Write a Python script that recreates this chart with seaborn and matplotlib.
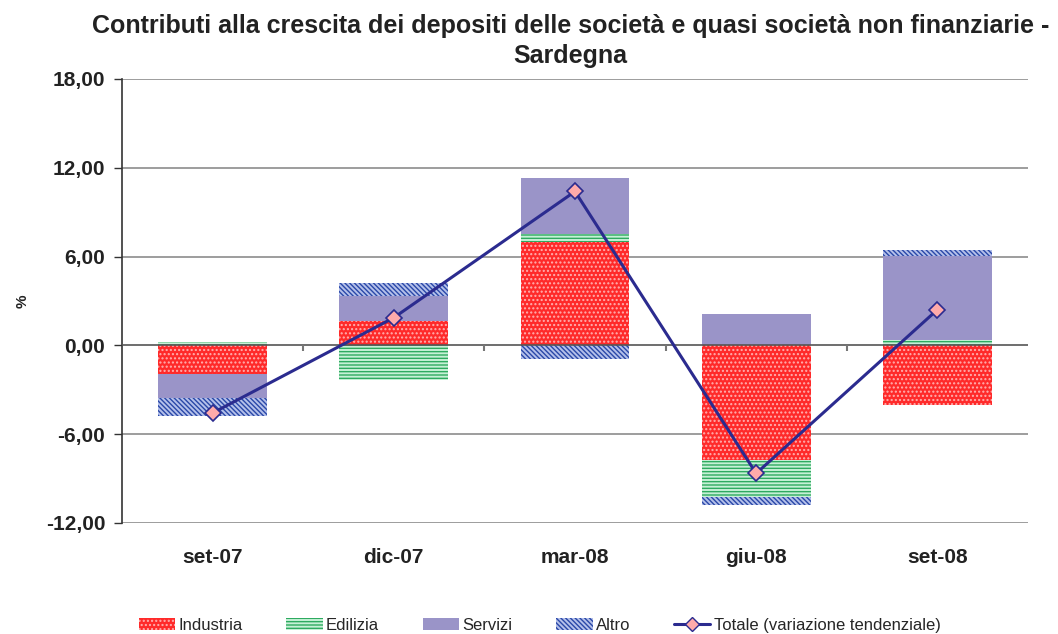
import numpy as np
import matplotlib
matplotlib.use("Agg")
import matplotlib.pyplot as plt
import seaborn as sns
from matplotlib.patches import Patch
from matplotlib.lines import Line2D

# Data
periods = ["set-07", "dic-07", "mar-08", "giu-08", "set-08"]
industria = [-1.95, 1.62, 6.98, -7.77, -4.00]
edilizia = [0.20, -2.32, 0.52, -2.48, 0.34]
servizi = [-1.60, 1.71, 3.80, 2.10, 5.67]
altro = [-1.20, 0.86, -0.95, -0.54, 0.41]
totale = [-4.57, 1.87, 10.40, -8.65, 2.41]
yticks = [-12, -6, 0, 6, 12, 18]

sns.set_style("white")
plt.rcParams["font.family"] = ["Liberation Sans", "DejaVu Sans"]
plt.rcParams["hatch.linewidth"] = 1.0

fig = plt.figure(figsize=(10.58, 6.34), dpi=100)
ax = fig.add_axes([0.1153, 0.1751, 0.8563, 0.7003])

x = np.arange(len(periods))
series = [
    ("Industria", industria, "#FF2A2A", "#FFB0B0", "...."),
    ("Edilizia", edilizia, "#C6F0D6", "#2EAA60", "-----"),
    ("Servizi", servizi, "#9A94C8", None, None),
    ("Altro", altro, "#B4C0EA", "#2A48A8", "\\\\\\\\\\\\\\"),
]

pos_base = np.zeros(len(periods))
neg_base = np.zeros(len(periods))
handles = []
for name, vals, face, hcol, hatch in series:
    vals = np.array(vals)
    bottoms = np.where(vals >= 0, pos_base, neg_base)
    ax.bar(x, vals, width=0.6, bottom=bottoms, color=face,
           edgecolor=hcol if hcol else face, linewidth=0, hatch=hatch, zorder=2)
    pos_base = pos_base + np.where(vals >= 0, vals, 0)
    neg_base = neg_base + np.where(vals < 0, vals, 0)
    handles.append(Patch(facecolor=face, edgecolor=hcol if hcol else face,
                         linewidth=0, hatch=hatch, label=name))

sns.lineplot(x=x, y=totale, ax=ax, color="#2B2B8F", linewidth=2.2,
             marker="D", markersize=8, markerfacecolor="#FFAAAA",
             markeredgecolor="#2B2B8F", markeredgewidth=1.2, zorder=4)
handles.append(Line2D([0], [0], color="#2B2B8F", linewidth=2.2, marker="D",
                      markersize=7, markerfacecolor="#FFAAAA",
                      markeredgecolor="#2B2B8F",
                      label="Totale (variazione tendenziale)"))

ax.set_xlim(-0.5, 4.5)
ax.set_ylim(-12, 18)
ax.set_yticks(yticks)
ax.set_yticklabels([f"{v:.2f}".replace(".", ",") for v in yticks],
                   fontsize=15, fontweight="bold", color="#222222")
ax.set_xticks(x)
ax.set_xticklabels(periods, fontsize=15, fontweight="bold", color="#222222")
ax.tick_params(axis="x", length=0, pad=18)
ax.tick_params(axis="y", left=True, length=6, width=1, color="#333333", pad=6)

for v in yticks:
    if v != 0:
        ax.axhline(v, color="#8C8C8C", linewidth=1.2, zorder=1)
ax.axhline(0, color="#555555", linewidth=1.2, zorder=3)
ax.vlines(np.arange(0.5, 4.5, 1.0), -0.35, 0, color="#777777", linewidth=1.5, zorder=3)

for s in ["top", "right", "bottom"]:
    ax.spines[s].set_visible(False)
ax.spines["left"].set_color("#333333")
ax.spines["left"].set_linewidth(1.2)

ax.set_ylabel("%", fontsize=11, fontweight="bold", color="#222222", labelpad=12)

fig.suptitle("Contributi alla crescita dei depositi delle società e quasi società non finanziarie -\nSardegna",
             x=0.539, y=0.978, fontsize=18, fontweight="bold", color="#222222", linespacing=1.3)

fig.legend(handles=handles, loc="lower center", bbox_to_anchor=(0.51, -0.022),
           ncol=5, frameon=False, fontsize=12, handlelength=2.2, handleheight=0.7,
           columnspacing=2.6, handletextpad=0.2)

fig.savefig("out.png", dpi=100)
